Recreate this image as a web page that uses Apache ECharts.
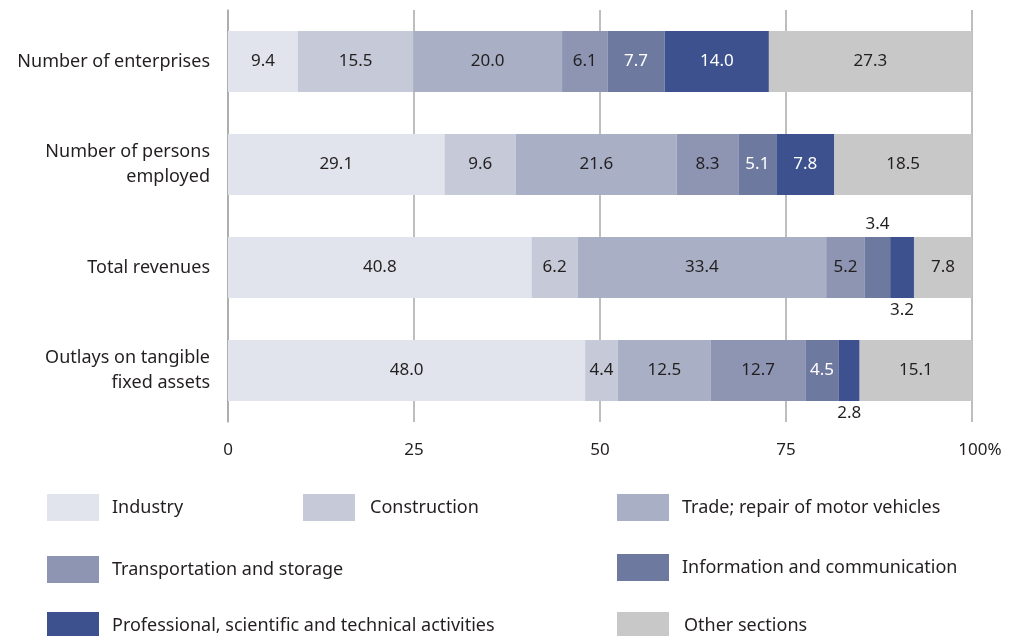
<!DOCTYPE html>
<html>
<head>
<meta charset="utf-8">
<script src="https://cdn.jsdelivr.net/npm/echarts@6/dist/echarts.min.js"></script>
<style>
  html, body { margin: 0; padding: 0; background: #fff; }
  #chart { width: 1009px; height: 636px; }
</style>
</head>
<body>
<div id="chart"></div>
<script>
// categories (top to bottom)
var categories = ['Number of enterprises', 'Number of persons\nemployed', 'Total revenues', 'Outlays on tangible\nfixed assets'];

// shares, in % (same order as categories)
var industry      = [9.4, 29.1, 40.8, 48.0];
var construction  = [15.5, 9.6, 6.2, 4.4];
var trade         = [20.0, 21.6, 33.4, 12.5];
var transport     = [6.1, 8.3, 5.2, 12.7];
var information   = [7.7, 5.1, 3.4, 4.5];
var professional  = [14.0, 7.8, 3.2, 2.8];
var other         = [27.3, 18.5, 7.8, 15.1];

var xTicks = [0, 25, 50, 75, 100];

var names = ['Industry', 'Construction', 'Trade; repair of motor vehicles', 'Transportation and storage',
             'Information and communication', 'Professional, scientific and technical activities', 'Other sections'];
var colors = ['#e1e4ec', '#c6cad8', '#a9b0c5', '#8d95b3', '#6e799f', '#3d518e', '#c8c8c8'];
var whiteText = [false, false, false, false, true, true, false];
var allData = [industry, construction, trade, transport, information, professional, other];

// small segments whose label sits outside the bar: [series index, category index, position]
var outsideLabels = [[4, 2, 'top'], [5, 2, 'bottom'], [5, 3, 'bottom']];

var textColor = '#231f20';
var font = 'Noto Sans';

var chart = echarts.init(document.getElementById('chart'));

var series = names.map(function(name, i) {
    return {
        name: name,
        type: 'bar',
        stack: 'total',
        barWidth: 61,
        itemStyle: { color: colors[i] },
        label: {
            show: true,
            position: 'inside',
            color: whiteText[i] ? '#fff' : textColor,
            fontFamily: font,
            fontSize: 17,
            formatter: function(p) { return p.value.toFixed(1); }
        },
        data: allData[i].map(function(v, j) {
            var d = { value: v };
            outsideLabels.forEach(function(o) {
                if (o[0] === i && o[1] === j) {
                    d.label = { position: o[2], color: textColor, distance: 4 };
                }
            });
            return d;
        })
    };
});

// legend positions, one legend per item
var legendPos = [[47, 494], [303, 494], [617, 494], [47, 556], [617, 554], [47, 612], [617, 612]];
var legendTextPad = [[0, 0, 0, 8], [6, 0, 0, 10], [0, 0, 0, 8], [3, 0, 0, 8], [0, 0, 0, 8], [6, 0, 0, 8], [6, 0, 0, 10]];
var legends = names.map(function(name, i) {
    return {
        data: [name],
        left: legendPos[i][0],
        top: legendPos[i][1],
        padding: 0,
        icon: 'rect',
        itemWidth: 52,
        itemHeight: 27,
        itemGap: 0,
        selectedMode: false,
        textStyle: { color: textColor, fontFamily: font, fontSize: 18, padding: legendTextPad[i] }
    };
});

var option = {
    animation: false,
    backgroundColor: '#fff',
    grid: { left: 228, right: 37, top: 10, height: 412 },
    legend: legends,
    xAxis: {
        type: 'value',
        min: xTicks[0],
        max: xTicks[xTicks.length - 1],
        interval: 25,
        axisLine: { show: false },
        axisTick: { show: false },
        splitLine: { show: true, lineStyle: { color: '#a8a8a8', width: 1.5 } },
        axisLabel: {
            margin: 20,
            color: textColor,
            fontFamily: font,
            fontSize: 17,
            formatter: function(v) { return v === 100 ? '{h|100%}' : String(v); },
            rich: { h: { padding: [0, 0, 0, 16], color: textColor, fontFamily: font, fontSize: 17 } }
        }
    },
    yAxis: {
        type: 'category',
        inverse: true,
        data: categories,
        axisLine: { show: true, lineStyle: { color: '#a8a8a8', width: 1.5 } },
        axisTick: { show: false },
        axisLabel: {
            margin: 18,
            color: textColor,
            fontFamily: font,
            fontSize: 18,
            lineHeight: 25,
            align: 'right'
        }
    },
    series: series
};

chart.setOption(option);
</script>
</body>
</html>
